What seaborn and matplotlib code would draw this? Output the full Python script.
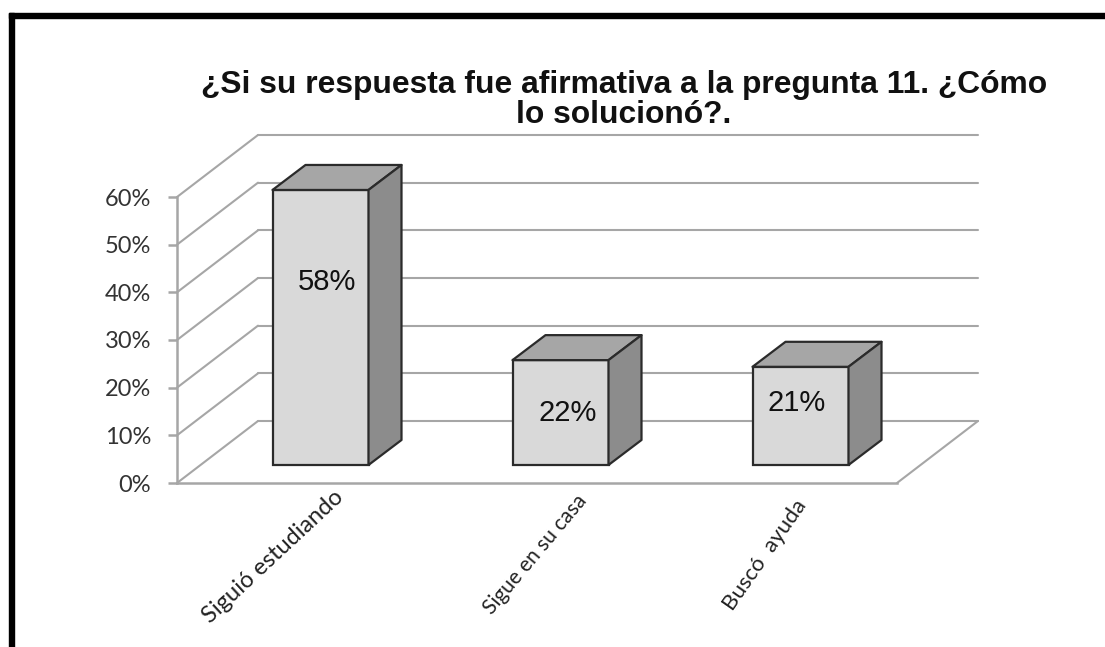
import matplotlib
matplotlib.use('Agg')
import matplotlib.pyplot as plt
from matplotlib.patches import Polygon, Rectangle
from matplotlib.transforms import ScaledTranslation
import seaborn as sns

categories = ['Siguió estudiando', 'Sigue en su casa', 'Buscó  ayuda']
values = [0.577, 0.22, 0.206]
value_labels = ['58%', '22%', '21%']
y_ticks = [0, 0.1, 0.2, 0.3, 0.4, 0.5, 0.6]
y_tick_labels = ['0%', '10%', '20%', '30%', '40%', '50%', '60%']
title = '¿Si su respuesta fue afirmativa a la pregunta 11. ¿Cómo\nlo solucionó?.'

W, H = 1105, 647
GRID = '#a6a6a6'
EDGE = '#2b2b2b'

sns.set_theme(style='white')
plt.rcParams['font.family'] = ['Liberation Sans', 'DejaVu Sans']

fig = plt.figure(figsize=(W / 100, H / 100), dpi=100, facecolor='white')
ax = fig.add_axes([177 / W, 1 - 483 / H, 720 / W, 286 / H])

sns.barplot(x=categories, y=values, color='#d9d9d9', saturation=1, width=0.4,
            edgecolor=EDGE, linewidth=1.6, ax=ax, zorder=3)
ax.set_xlim(-0.5, 2.5)
ax.set_ylim(0, 0.6)

# pixels -> data units
px_x = 3 / 720
px_y = 0.6 / 286
wall_dx, wall_dy = 81 * px_x, 62 * px_y
gap_dx, gap_dy = 23.5 * px_x, 18 * px_y
box_dx, box_dy = 33 * px_x, 25 * px_y

# back wall and floor
for t in y_ticks:
    ax.plot([-0.5, -0.5 + wall_dx], [t, t + wall_dy], color=GRID, lw=1.5, clip_on=False, zorder=1)
    ax.plot([-0.5 + wall_dx, 2.5 + wall_dx], [t + wall_dy, t + wall_dy], color=GRID, lw=1.5,
            clip_on=False, zorder=1)
ax.plot([2.5, 2.5 + wall_dx], [0, wall_dy], color=GRID, lw=1.5, clip_on=False, zorder=1)

# push the bars into the floor and add top and side faces
label_offsets = [(5, 33), (5, 0), (-3, 9)]
for bar, lab, off in zip(ax.patches, value_labels, label_offsets):
    bar.set_x(bar.get_x() + gap_dx)
    bar.set_y(gap_dy)
    bar.set_clip_on(False)
    x0, x1 = bar.get_x(), bar.get_x() + bar.get_width()
    y0, y1 = gap_dy, gap_dy + bar.get_height()
    ax.add_patch(Polygon([(x0, y1), (x1, y1), (x1 + box_dx, y1 + box_dy), (x0 + box_dx, y1 + box_dy)],
                         facecolor='#a6a6a6', edgecolor=EDGE, lw=1.6, joinstyle='round',
                         clip_on=False, zorder=3))
    ax.add_patch(Polygon([(x1, y0), (x1 + box_dx, y0 + box_dy), (x1 + box_dx, y1 + box_dy), (x1, y1)],
                         facecolor='#8c8c8c', edgecolor=EDGE, lw=1.6, joinstyle='round',
                         clip_on=False, zorder=3))
    ax.annotate(lab, ((x0 + x1) / 2, (y0 + y1) / 2), xytext=off, textcoords='offset points',
                ha='center', va='center', fontsize=21, color='#111111', zorder=5)

sns.despine(ax=ax)
for side in ['left', 'bottom']:
    ax.spines[side].set_color(GRID)
    ax.spines[side].set_linewidth(1.8)

ax.set_yticks(y_ticks)
ax.set_yticklabels(y_tick_labels, fontsize=17, family='Lato', color='#333333')
ax.tick_params(axis='y', left=True, length=6.5, width=1.8, color=GRID, pad=12)
ax.set_xticks(range(3))
ax.set_xticklabels(categories, ha='right', rotation_mode='anchor', family='Lato', color='#222222')
ax.tick_params(axis='x', bottom=False, pad=2)

# labels sit under the bars, each one was set by hand in the original
sizes = [17, 15, 16]
angles = [43, 50, 55]
shifts = [(36, 8), (39, 3), (17, -2)]
for tl, s, a, sh in zip(ax.get_xticklabels(), sizes, angles, shifts):
    tl.set_fontsize(s)
    tl.set_rotation(a)
    tl.set_transform(tl.get_transform() + ScaledTranslation(sh[0] / 100, sh[1] / 100, fig.dpi_scale_trans))

fig.text(624 / W, 1 - 100 / H, title, ha='center', va='center', fontsize=22.9, fontweight='bold',
         color='#111111', linespacing=1.0)

# black frame, only top and left are in the crop
fig.add_artist(Rectangle((9 / W, 0), 5 / W, 1 - 13 / H, transform=fig.transFigure, color='black'))
fig.add_artist(Rectangle((9 / W, 1 - 18 / H), 1 - 9 / W, 5 / H, transform=fig.transFigure, color='black'))

fig.savefig('out.png', dpi=100)
